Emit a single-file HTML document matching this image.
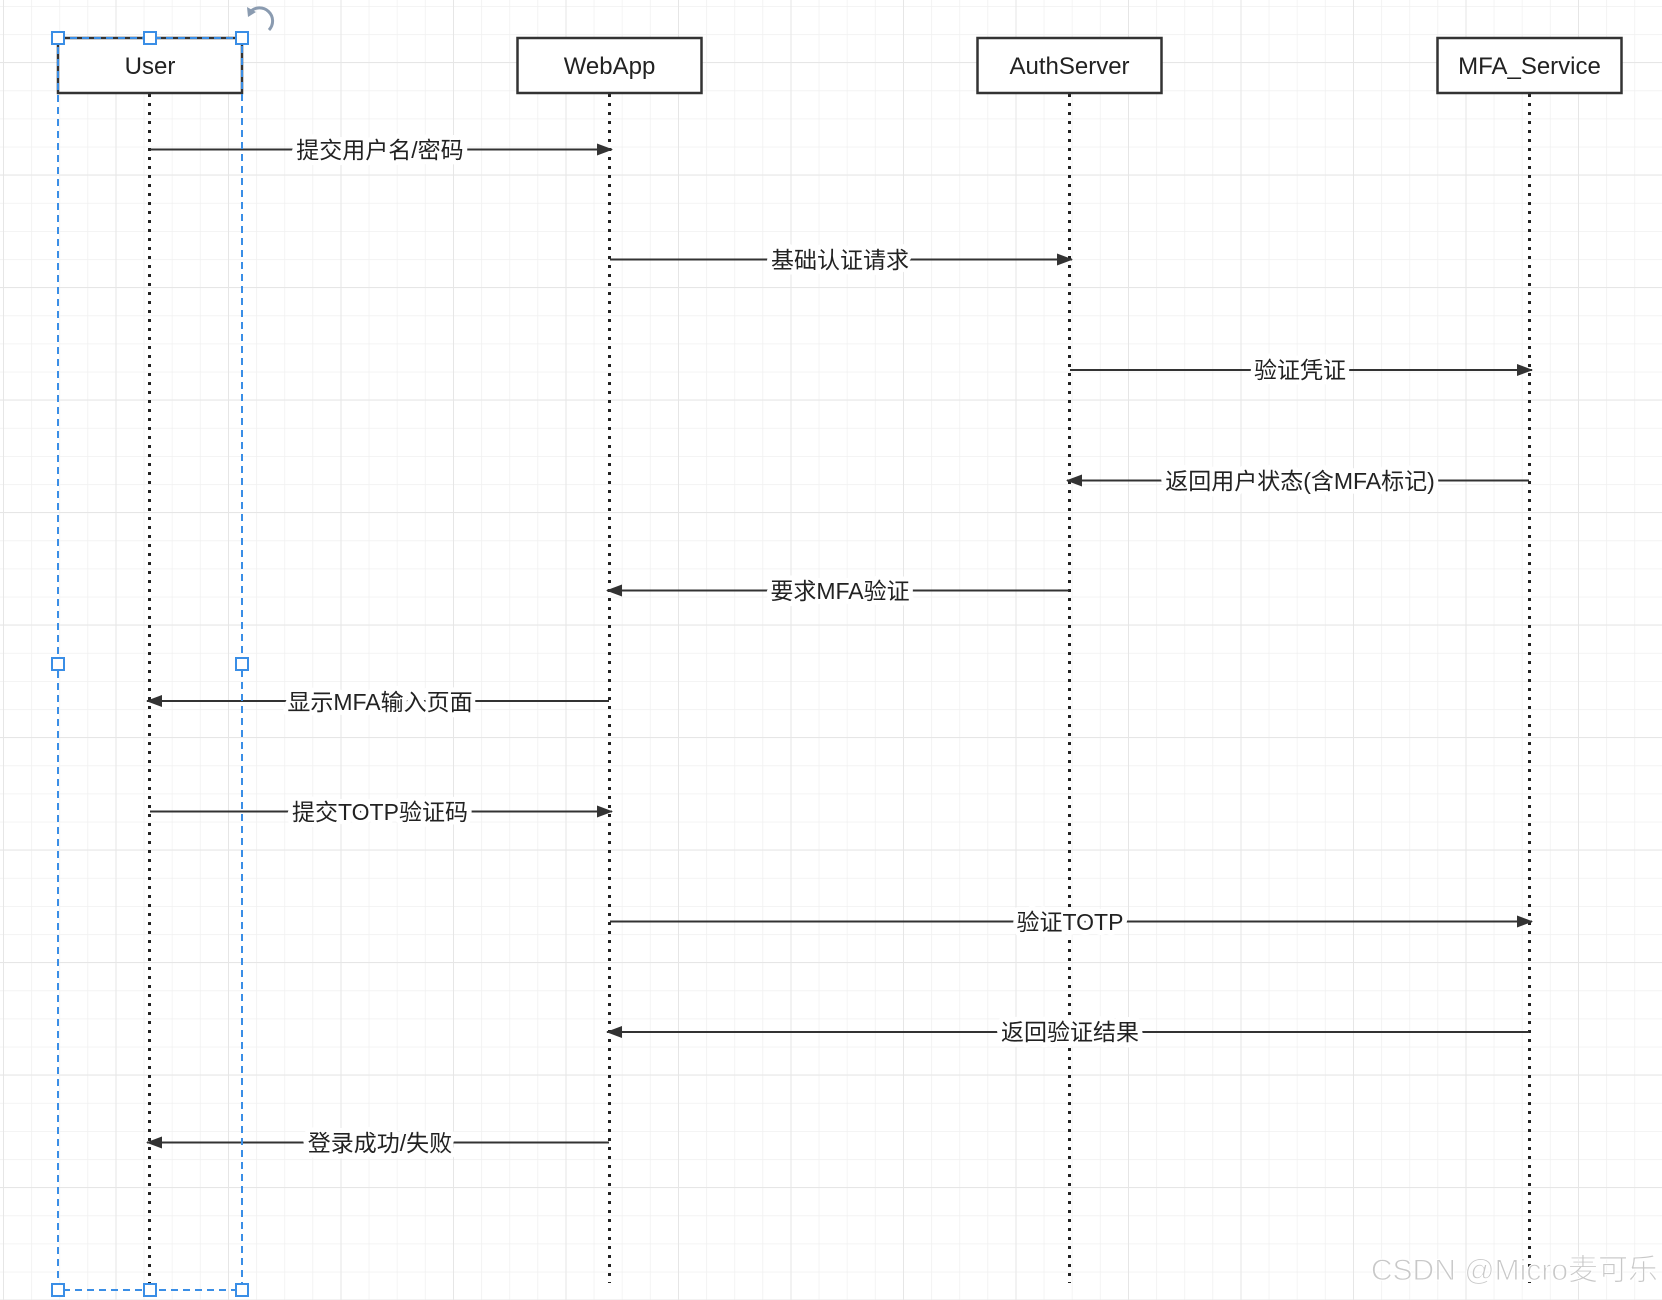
<!DOCTYPE html>
<html><head><meta charset="utf-8"><style>
html,body{margin:0;padding:0;background:#fff}
svg{display:block}
text{font-family:"Liberation Sans","Noto Sans CJK SC",sans-serif;fill:#222}
</style></head><body>
<svg width="1662" height="1300" viewBox="0 0 1662 1300" xmlns="http://www.w3.org/2000/svg">
<defs>
<pattern id="minor" x="3" y="6" width="28.125" height="28.125" patternUnits="userSpaceOnUse">
<path d="M0 0H28.125M0 0V28.125" stroke="#f0f0f0" stroke-width="1.5" fill="none"/>
</pattern>
<pattern id="major" x="3" y="62" width="112.5" height="112.5" patternUnits="userSpaceOnUse">
<path d="M0 0H112.5M0 0V112.5" stroke="#e6e6e6" stroke-width="2" fill="none"/>
</pattern>
<marker id="ah" markerWidth="16" markerHeight="12" refX="15" refY="6" orient="auto" markerUnits="userSpaceOnUse">
<path d="M0 0L16 6L0 12Z" fill="#333"/>
</marker>
</defs>
<rect width="1662" height="1300" fill="url(#minor)"/>
<rect width="1662" height="1300" fill="url(#major)"/>

<g stroke="#222" stroke-width="3" stroke-dasharray="3 6">
<line x1="149.5" y1="94" x2="149.5" y2="1283"/>
<line x1="609.5" y1="94" x2="609.5" y2="1283"/>
<line x1="1069.5" y1="94" x2="1069.5" y2="1283"/>
<line x1="1529.5" y1="94" x2="1529.5" y2="1283"/>
</g>

<g fill="#fff" stroke="#333" stroke-width="2.5">
<rect x="58" y="38" width="184" height="55"/>
<rect x="517.5" y="38" width="184" height="55"/>
<rect x="977.5" y="38" width="184" height="55"/>
<rect x="1437.5" y="38" width="184" height="55"/>
</g>
<g font-size="24" text-anchor="middle">
<text x="150" y="74">User</text>
<text x="609.5" y="74">WebApp</text>
<text x="1069.5" y="74">AuthServer</text>
<text x="1529.5" y="74">MFA_Service</text>
</g>

<g stroke="#333" stroke-width="2" marker-end="url(#ah)">
<line x1="150" y1="149.5" x2="612" y2="149.5"/>
<line x1="610" y1="259.5" x2="1072" y2="259.5"/>
<line x1="1070" y1="370" x2="1532" y2="370"/>
<line x1="1529" y1="480.5" x2="1067" y2="480.5"/>
<line x1="1069" y1="590.5" x2="607" y2="590.5"/>
<line x1="609" y1="701" x2="147" y2="701"/>
<line x1="150" y1="811.5" x2="612" y2="811.5"/>
<line x1="610" y1="921.5" x2="1532" y2="921.5"/>
<line x1="1529" y1="1032" x2="607" y2="1032"/>
<line x1="609" y1="1142.5" x2="147" y2="1142.5"/>
</g>

<g font-size="23" text-anchor="middle" stroke="#fff" stroke-width="10" paint-order="stroke" style="stroke-linejoin:round">
<text x="380" y="158">提交用户名/密码</text>
<text x="840" y="268">基础认证请求</text>
<text x="1300" y="378">验证凭证</text>
<text x="1300" y="489">返回用户状态(含MFA标记)</text>
<text x="840" y="599">要求MFA验证</text>
<text x="380" y="710">显示MFA输入页面</text>
<text x="380" y="820">提交TOTP验证码</text>
<text x="1070" y="930">验证TOTP</text>
<text x="1070" y="1040">返回验证结果</text>
<text x="380" y="1151">登录成功/失败</text>
</g>

<g fill="none" stroke="#3a8ee6" stroke-width="2">
<rect x="58" y="38" width="184" height="1252" stroke-dasharray="7 5"/>
</g>
<g fill="#fff" stroke="#3a8ee6" stroke-width="2">
<rect x="52" y="32" width="12" height="12"/>
<rect x="144" y="32" width="12" height="12"/>
<rect x="236" y="32" width="12" height="12"/>
<rect x="52" y="658" width="12" height="12"/>
<rect x="236" y="658" width="12" height="12"/>
<rect x="52" y="1284" width="12" height="12"/>
<rect x="144" y="1284" width="12" height="12"/>
<rect x="236" y="1284" width="12" height="12"/>
</g>
<path d="M250 12 A11 11 0 1 1 269 30" fill="none" stroke="#8a9bb0" stroke-width="3"/>
<path d="M247 7 L256 12 L248 17Z" fill="#8a9bb0"/>

<text x="1658" y="1280" text-anchor="end" font-size="30" style="fill:#c8c8c8" stroke="#fff" stroke-width="1">CSDN @Micro麦可乐</text>
</svg>
</body></html>
